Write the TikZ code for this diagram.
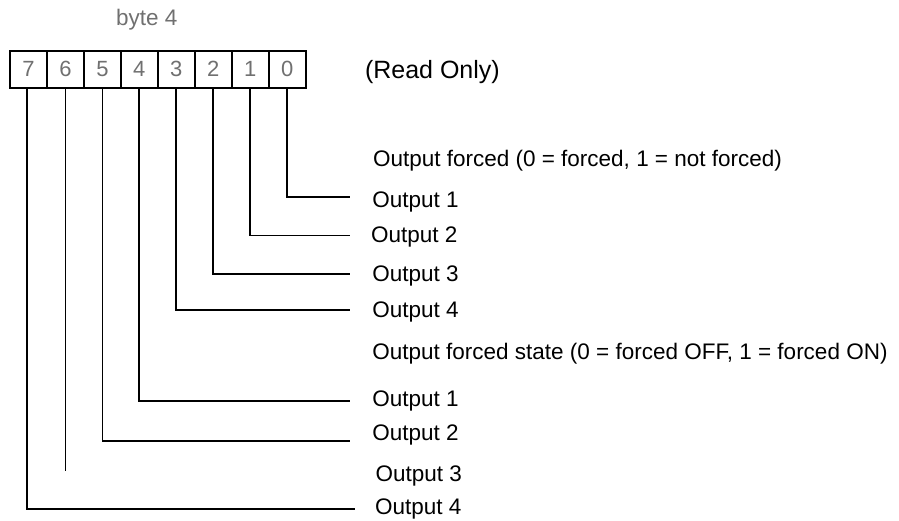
\documentclass[tikz,border=0pt]{standalone}
\usepackage{fontspec}
\setmainfont{Liberation Sans}
\begin{document}
\begin{tikzpicture}[x=1pt,y=-1pt,
  cell/.style={draw=black,line width=1.8pt,minimum width=36.96pt,minimum height=37pt,inner sep=0pt,outer sep=0pt,text=digitgray,font=\fontsize{22}{26}\selectfont},
  lbl/.style={anchor=base west,inner sep=0pt,outer sep=0pt,font=\fontsize{22.5}{26}\selectfont},
  conn/.style={draw=black,line width=1.8pt}]
\definecolor{digitgray}{HTML}{707070}
\useasboundingbox (0,0) rectangle (899,521);
\fill[white] (0,0) rectangle (899,521);
% header
\node[lbl,text=digitgray] (byte) at (116,25.5) {byte 4};
\node[lbl,font=\fontsize{25}{29}\selectfont] (ro) at (365,78.3) {(Read Only)};
% byte cells
\foreach \i in {0,...,7}{
  \node[cell] (c\i) at ({10+36.96*(7.5-\i)},69.2) {\i};
}
% labels
\node[lbl] (h1) at (373,166.7) {Output forced (0 = forced, 1 = not forced)};
\node[lbl] (l0) at (372.3,207.3) {Output 1};
\node[lbl] (l1) at (371,242.3) {Output 2};
\node[lbl] (l2) at (372.3,281.7) {Output 3};
\node[lbl] (l3) at (372.3,317.3) {Output 4};
\node[lbl] (h2) at (372.3,359) {Output forced state (0 = forced OFF, 1 = forced ON)};
\node[lbl] (l4) at (372.3,406.7) {Output 1};
\node[lbl] (l5) at (372.3,440) {Output 2};
\node[lbl] (l6) at (375.7,481) {Output 3};
\node[lbl] (l7) at (375,514) {Output 4};
% connector ends
\coordinate (e0) at (350,196.7);
\coordinate (e1) at (350,235.5);
\coordinate (e2) at (350,273.8);
\coordinate (e3) at (350,310);
\coordinate (e4) at (350,400.7);
\coordinate (e5) at (350,441);
\coordinate (e6) at (66,470.7);
\coordinate (e7) at (355,509);
\draw[conn] (c0.south) |- (e0);
\draw[conn] (c1.south) |- (e1);
\draw[conn] (c2.south) |- (e2);
\draw[conn] (c3.south) |- (e3);
\draw[conn] (c4.south) |- (e4);
\draw[conn] (c5.south) |- (e5);
\draw[conn] (c6.south) -- (c6.south |- e6);
\draw[conn] ([xshift=-1.8pt]c7.south) |- (e7);
\end{tikzpicture}
\end{document}
